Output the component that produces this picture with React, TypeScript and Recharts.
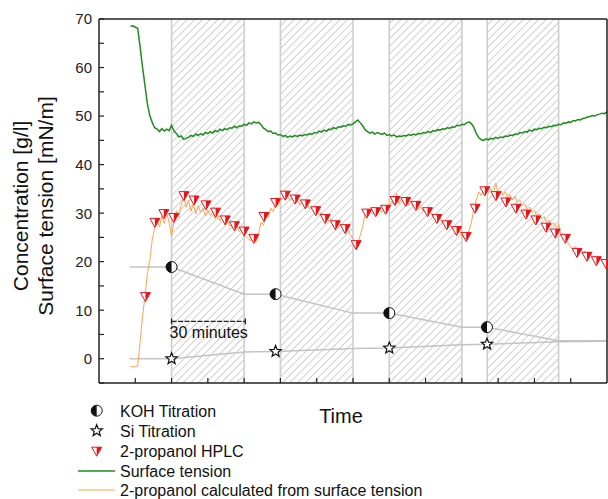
import React from 'react';
import { ComposedChart, Line, Scatter, XAxis, YAxis, ReferenceArea, ReferenceLine } from 'recharts';

const FONT = 'Arial, "Liberation Sans", sans-serif';
const AX = '#222';

// surface tension, one value per minute from minute 13
const surfaceStart = 13;
const surfaceTension = [
  68.5, 68.6, 68.3, 68.1, 64.2, 60.1, 56.3, 52.5, 50.1, 48.7,
  47.6, 47.3, 46.8, 47.4, 46.9, 47.3, 47.0, 48.1, 46.9, 46.4,
  45.7, 45.9, 45.2, 45.4, 45.6, 46.0, 45.8, 46.3, 46.0, 46.4,
  46.1, 46.6, 46.4, 46.8, 46.5, 47.0, 46.8, 47.3, 47.0, 47.4,
  47.2, 47.6, 47.5, 47.9, 47.6, 48.0, 47.9, 48.3, 48.1, 48.6,
  48.4, 48.8, 48.6, 48.7, 48.2, 47.5, 47.2, 46.8, 46.9, 46.4,
  46.5, 46.1, 46.2, 45.8, 46.0, 45.6, 45.9, 45.7, 46.0, 45.8,
  46.1, 45.9, 46.2, 46.1, 46.4, 46.2, 46.6, 46.5, 46.9, 46.7,
  47.1, 46.9, 47.3, 47.2, 47.6, 47.4, 47.8, 47.7, 48.0, 47.9,
  48.3, 48.1, 48.4, 48.8, 49.2, 48.6, 48.0, 47.2, 46.8, 46.5,
  46.7, 46.3, 46.6, 46.4, 46.2, 46.5, 46.0, 46.2, 45.9, 46.1,
  45.7, 45.9, 45.8, 46.0, 45.9, 46.2, 46.0, 46.3, 46.1, 46.4,
  46.3, 46.6, 46.5, 46.8, 46.6, 47.0, 46.9, 47.2, 47.1, 47.4,
  47.3, 47.6, 47.5, 47.8, 47.7, 48.1, 48.0, 48.3, 48.2, 48.6,
  48.8, 48.4, 47.6, 46.4, 45.6, 45.1, 45.0, 45.3, 45.1, 45.4,
  45.3, 45.6, 45.4, 45.7, 45.6, 45.9, 45.8, 46.1, 46.0, 46.3,
  46.2, 46.6, 46.5, 46.8, 46.7, 47.1, 46.9, 47.3, 47.2, 47.5,
  47.4, 47.7, 47.6, 47.9, 47.8, 48.1, 48.0, 48.3, 48.2, 48.6,
  48.5, 48.8, 48.7, 49.1, 49.0, 49.3, 49.2, 49.5, 49.6, 49.8,
  49.9, 50.1, 50.0, 50.3, 50.4, 50.6, 50.5, 50.9,
];

// 2-propanol calculated from surface tension, one value per minute from minute 13
const propanolStart = 13;
const propanolCalc = [
  -1.7, -1.6, -1.7, -1.5, 3.5, 8.6, 13.0, 17.5, 20.3, 24.5, 26.9,
  28.5, 27.2, 29.4, 27.8, 30.1, 28.0, 25.2, 28.3, 30.5, 29.2, 31.8, 33.4,
  31.2, 32.6, 30.4, 31.9, 29.8, 31.5, 30.2, 31.0, 29.4, 30.6,
  29.5, 30.3, 28.8, 29.7, 28.4, 29.1, 27.6, 28.5, 27.3, 27.9,
  26.6, 27.4, 26.2, 26.8, 25.6, 25.0, 24.6, 24.3, 24.5, 24.2,
  25.8, 28.2, 27.5, 29.8, 29.2, 31.0, 30.3, 32.1, 31.6, 32.7,
  33.4, 32.8, 33.5, 32.6, 33.1, 32.2, 32.8, 31.7, 32.3, 31.3,
  31.8, 30.9, 31.3, 30.2, 30.8, 29.7, 30.1, 29.0, 29.5, 28.4,
  28.9, 27.8, 28.3, 27.2, 27.7, 26.8, 26.9, 26.3, 25.5, 24.8,
  22.7, 23.8, 25.5, 27.2, 30.0, 29.3, 30.6, 29.8, 30.4, 29.6,
  31.0, 30.2, 30.9, 30.1, 31.3, 32.4, 31.8, 34.1, 32.0, 32.9,
  32.2, 33.0, 31.6, 32.4, 31.3, 31.9, 30.8, 31.4, 30.3, 30.9,
  29.8, 30.3, 29.2, 29.7, 28.6, 29.0, 27.9, 28.4, 27.4, 27.8,
  26.7, 27.1, 26.2, 26.6, 25.3, 24.8, 25.5, 26.4, 28.2, 31.0,
  32.8, 34.4, 33.6, 34.8, 35.1, 34.2, 35.0, 33.9, 36.2, 34.1,
  34.7, 33.6, 34.4, 33.2, 33.8, 32.7, 33.4, 32.2, 32.6, 31.5,
  31.9, 30.8, 31.3, 30.1, 30.6, 29.5, 29.9, 28.8, 29.3, 28.1,
  28.5, 27.6, 28.0, 27.0, 27.7, 25.3, 25.8, 24.2, 23.9, 23.0,
  22.7, 23.1, 22.3, 22.6, 21.8, 22.2, 21.4, 21.7, 20.9, 21.2,
  20.5, 20.8, 20.1, 20.3, 19.9,
];

// 2-propanol HPLC samples
const hplcTimes = [
  19.2, 23.1, 26.8, 30.9, 35.1, 39.3, 44.2, 48.2, 52.2, 56.0,
  60.0, 64.0, 68.2, 73.0, 77.0, 81.1, 85.3, 89.6, 93.5, 97.7,
  101.8, 106.3, 110.7, 114.4, 118.5, 122.4, 126.8, 131.0, 135.8, 139.7,
  143.8, 147.8, 151.8, 155.5, 159.5, 164.1, 168.2, 172.4, 176.5, 180.6,
  184.8, 188.6, 192.8, 197.6, 201.7, 205.6, 209.6,
];
const hplcValues = [
  12.8, 28.1, 29.9, 29.1, 33.6, 32.7, 31.7, 30.2, 28.6, 27.4,
  26.3, 24.8, 29.3, 32.2, 33.7, 32.9, 31.9, 30.5, 28.9, 27.6,
  26.8, 23.5, 30.0, 30.3, 30.8, 32.6, 32.4, 31.6, 30.3, 28.9,
  27.6, 26.4, 25.2, 31.0, 34.6, 33.6, 32.3, 31.0, 29.8, 28.6,
  27.1, 25.9, 24.8, 21.9, 21.1, 20.2, 19.6,
];

// titrations
const kohTimes = [30, 73, 120, 160.4];
const kohValues = [18.9, 13.3, 9.4, 6.5];
const kohLineTimes = [12.7, 30, 60, 73, 105, 120, 150, 160.4, 190, 210];
const kohLineValues = [18.9, 18.9, 13.3, 13.3, 9.4, 9.4, 6.5, 6.5, 3.7, 3.7];

const siTimes = [30, 73, 120, 160.4];
const siValues = [0, 1.5, 2.2, 3.0];
const siLineTimes = [12.7, 30, 60, 73, 105, 120, 150, 160.4, 190, 210];
const siLineValues = [0, 0, 1.4, 1.5, 2.1, 2.2, 2.9, 3.0, 3.5, 3.6];

// hatched phases (minutes)
const phaseStarts = [30, 75, 120, 160.5];
const phaseEnds = [60, 105, 150, 190];

const xTicks = [15, 30, 45, 60, 75, 90, 105, 120, 135, 150, 165, 180, 195];
const yTicks = [-5, 0, 5, 10, 15, 20, 25, 30, 35, 40, 45, 50, 55, 60, 65, 70];

const series = (start: number, vals: number[]) => vals.map((v, i) => ({ t: start + i, v }));
const pairs = (ts: number[], vs: number[]) => ts.map((t, i) => ({ t, v: vs[i] }));

const surfaceData = series(surfaceStart, surfaceTension);
const propanolData = series(propanolStart, propanolCalc);
const hplcData = pairs(hplcTimes, hplcValues);
const kohData = pairs(kohTimes, kohValues);
const kohLine = pairs(kohLineTimes, kohLineValues);
const siData = pairs(siTimes, siValues);
const siLine = pairs(siLineTimes, siLineValues);

const RED = '#e8141b';
const GREEN = '#1e8c1e';
const ORANGE = '#f6a653';
const GREY = '#c3c3c3';

const starPoints = (cx: number, cy: number, ro: number, ri: number) => {
  const pts: string[] = [];
  for (let i = 0; i < 10; i++) {
    const r = i % 2 === 0 ? ro : ri;
    const a = -Math.PI / 2 + (i * Math.PI) / 5;
    pts.push(`${cx + r * Math.cos(a)},${cy + r * Math.sin(a)}`);
  }
  return pts.join(' ');
};

const Triangle = ({ cx, cy }: any) => (
  <g>
    <polygon points={`${cx - 5},${cy - 4} ${cx + 5},${cy - 4} ${cx},${cy + 5}`} fill="#fff" stroke={RED} strokeWidth={1} />
    <polygon points={`${cx},${cy - 4} ${cx + 5},${cy - 4} ${cx},${cy + 5}`} fill={RED} />
  </g>
);

const HalfCircle = ({ cx, cy }: any) => (
  <g>
    <circle cx={cx} cy={cy} r={5.5} fill="#fff" stroke="#111" strokeWidth={1} />
    <path d={`M${cx},${cy - 5.5} A5.5,5.5 0 0 0 ${cx},${cy + 5.5} Z`} fill="#111" />
  </g>
);

const Star = ({ cx, cy }: any) => (
  <polygon points={starPoints(cx, cy, 6, 2.6)} fill="#fff" stroke="#111" strokeWidth={1.2} />
);

const LeftTick = (p: any) => {
  const v = p.payload.value;
  return (
    <g>
      <line x1={p.x + 7} x2={p.x + 12} y1={p.y} y2={p.y} stroke={AX} strokeWidth={1.2} />
      {v % 10 === 0 && (
        <text x={p.x} y={p.y} dy="0.36em" textAnchor="end" fontSize={15} fontFamily={FONT} fill="#222">
          {v}
        </text>
      )}
    </g>
  );
};
const RightTick = (p: any) => (
  <line x1={p.x} x2={p.x - 5} y1={p.y} y2={p.y} stroke={AX} strokeWidth={1.2} />
);
const BottomTick = (p: any) => (
  <line x1={p.x} x2={p.x} y1={p.y} y2={p.y - 5} stroke={AX} strokeWidth={1.2} />
);
const TopTick = (p: any) => (
  <line x1={p.x} x2={p.x} y1={p.y} y2={p.y + 5} stroke={AX} strokeWidth={1.2} />
);

const yTitle = () => (
  <g fontFamily={FONT} fontSize={21} fill="#111">
    <text transform="translate(28,206) rotate(-90)" textAnchor="middle">Concentration [g/l]</text>
    <text transform="translate(53,206) rotate(-90)" textAnchor="middle">Surface tension [mN/m]</text>
  </g>
);

const xTitle = () => (
  <text x={341} y={423} textAnchor="middle" fontFamily={FONT} fontSize={20} fill="#111">
    Time
  </text>
);

const scaleLabel = (p: any) => (
  <text x={p.viewBox.x - 2} y={p.viewBox.y + 17} fontFamily={FONT} fontSize={16} fill="#111">
    30 minutes
  </text>
);

const legendRows = [
  { y: 410.7, text: 'KOH Titration', kind: 'koh' },
  { y: 430.7, text: 'Si Titration', kind: 'si' },
  { y: 451.2, text: '2-propanol HPLC', kind: 'hplc' },
  { y: 471, text: 'Surface tension', kind: 'st' },
  { y: 490, text: '2-propanol calculated from surface tension', kind: 'calc' },
];

function Legend() {
  return (
    <svg width={608} height={499} style={{ position: 'absolute', left: 0, top: 0, pointerEvents: 'none' }}>
      {legendRows.map((r) => (
        <g key={r.text}>
          {r.kind === 'koh' && <HalfCircle cx={96.7} cy={r.y} />}
          {r.kind === 'si' && <Star cx={96.7} cy={r.y} />}
          {r.kind === 'hplc' && <Triangle cx={96.7} cy={r.y} />}
          {r.kind === 'st' && <line x1={78} x2={115} y1={r.y} y2={r.y} stroke={GREEN} strokeWidth={1.4} />}
          {r.kind === 'calc' && <line x1={78} x2={115} y1={r.y} y2={r.y} stroke={ORANGE} strokeWidth={1.2} />}
          <text x={120} y={r.y + 5.8} fontFamily={FONT} fontSize={16} fill="#111">
            {r.text}
          </text>
        </g>
      ))}
    </svg>
  );
}

export default function App() {
  return (
    <div style={{ position: 'absolute', left: 0, top: 0, width: 608, height: 499, background: '#fff' }}>
      <ComposedChart width={608} height={499} margin={{ top: 18, right: 0, bottom: 0, left: 0 }}>
        <defs>
          <pattern id="hatch" width="5.4" height="5.4" patternUnits="userSpaceOnUse" patternTransform="rotate(45)">
            <line x1="0" y1="0" x2="0" y2="5.4" stroke="#a9a9a9" strokeWidth="1.1" />
          </pattern>
        </defs>
        <XAxis
          dataKey="t"
          type="number"
          domain={[0, 210]}
          ticks={xTicks}
          height={116}
          tickSize={0}
          tickMargin={0}
          tickLine={false}
          tick={BottomTick}
          axisLine={{ stroke: AX, strokeWidth: 1.5 }}
          label={xTitle}
        />
        <XAxis
          xAxisId="top"
          orientation="top"
          dataKey="t"
          type="number"
          domain={[0, 210]}
          ticks={xTicks}
          height={1}
          tickSize={0}
          tickMargin={0}
          tickLine={false}
          tick={TopTick}
          axisLine={{ stroke: AX, strokeWidth: 1.5 }}
        />
        <YAxis
          type="number"
          domain={[-5, 70]}
          ticks={yTicks}
          width={99}
          tickSize={0}
          tickMargin={7}
          tickLine={false}
          tick={LeftTick}
          axisLine={{ stroke: AX, strokeWidth: 1.5 }}
          label={yTitle}
        />
        <YAxis
          yAxisId="right"
          orientation="right"
          type="number"
          domain={[-5, 70]}
          ticks={yTicks}
          width={1}
          tickSize={0}
          tickMargin={0}
          tickLine={false}
          tick={RightTick}
          axisLine={{ stroke: AX, strokeWidth: 1.5 }}
        />

        {phaseStarts.map((s, i) => (
          <ReferenceArea key={`a${i}`} x1={s} x2={phaseEnds[i]} fill="url(#hatch)" fillOpacity={1} stroke="none" />
        ))}
        {phaseStarts.map((s, i) => (
          <ReferenceLine key={`s${i}`} x={s} stroke="#cdcdcd" strokeWidth={1.6} />
        ))}
        {phaseEnds.map((e, i) => (
          <ReferenceLine key={`e${i}`} x={e} stroke="#cdcdcd" strokeWidth={1.6} />
        ))}

        <Line data={kohLine} dataKey="v" stroke={GREY} strokeWidth={1.5} dot={false} isAnimationActive={false} />
        <Line data={siLine} dataKey="v" stroke={GREY} strokeWidth={1.5} dot={false} isAnimationActive={false} />
        <Line data={surfaceData} dataKey="v" stroke={GREEN} strokeWidth={1.5} dot={false} isAnimationActive={false} />
        <Line data={propanolData} dataKey="v" stroke={ORANGE} strokeWidth={1} dot={false} isAnimationActive={false} />

        <ReferenceLine segment={[{ x: 30, y: 7.7 }, { x: 60.5, y: 7.7 }]} stroke="#222" strokeWidth={1.4} strokeDasharray="5 1.5" label={scaleLabel} />
        <ReferenceLine segment={[{ x: 30, y: 7.1 }, { x: 30, y: 8.3 }]} stroke="#222" strokeWidth={1.3} />
        <ReferenceLine segment={[{ x: 60.5, y: 7.1 }, { x: 60.5, y: 8.3 }]} stroke="#222" strokeWidth={1.3} />

        <Scatter data={hplcData} dataKey="v" shape={Triangle} isAnimationActive={false} />
        <Scatter data={kohData} dataKey="v" shape={HalfCircle} isAnimationActive={false} />
        <Scatter data={siData} dataKey="v" shape={Star} isAnimationActive={false} />
      </ComposedChart>
      <Legend />
    </div>
  );
}
